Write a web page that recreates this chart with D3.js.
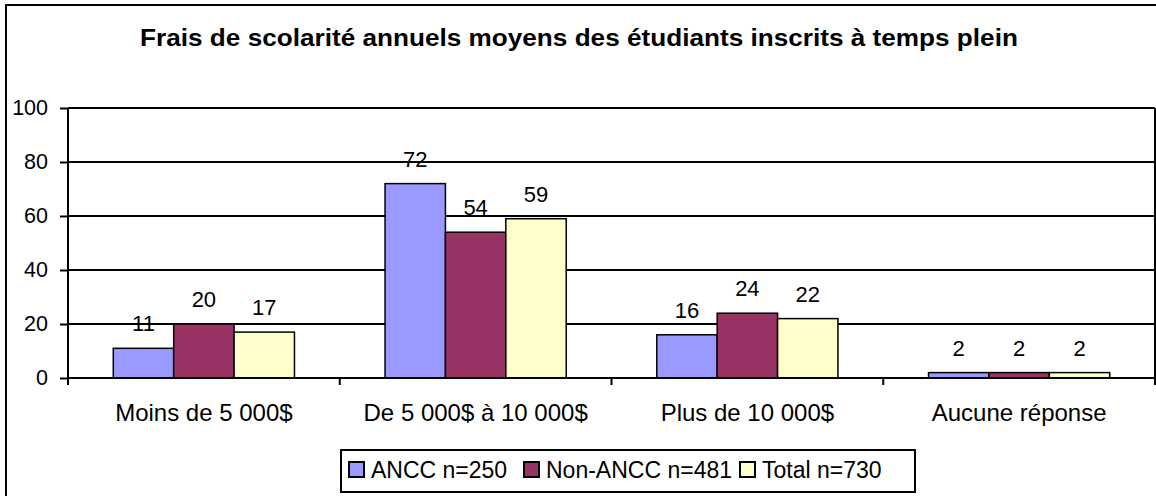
<!DOCTYPE html>
<html>
<head>
<meta charset="utf-8">
<script src="https://cdn.jsdelivr.net/npm/d3@7"></script>
<style>
  body { margin: 0; background: #fff; }
  svg { display: block; font-family: "Liberation Sans", Arial, sans-serif; }
</style>
</head>
<body>
<div class="canvas"></div>
<script>
const categories = ["Moins de 5 000$", "De 5 000$ à 10 000$", "Plus de 10 000$", "Aucune réponse"];
const seriesNames = ["ANCC n=250", "Non-ANCC n=481", "Total n=730"];
const ancc = [11, 72, 16, 2];
const nonAncc = [20, 54, 24, 2];
const total = [17, 59, 22, 2];
const yTicks = [0, 20, 40, 60, 80, 100];
const colors = ["#9999ff", "#993366", "#ffffcc"];
const title = "Frais de scolarité annuels moyens des étudiants inscrits à temps plein";

const series = [ancc, nonAncc, total];

const width = 1156;
const height = 496;
const margin = { top: 108, right: 1, bottom: 118, left: 68 };
const graphWidth = width - margin.left - margin.right;
const graphHeight = height - margin.top - margin.bottom;

const svg = d3
  .select(".canvas")
  .append("svg")
  .attr("width", width)
  .attr("height", height);

// outer frame
svg.append("rect")
  .attr("x", 6)
  .attr("y", 5)
  .attr("width", width + 10)
  .attr("height", height + 10)
  .attr("fill", "none")
  .attr("stroke", "#000")
  .attr("stroke-width", 2);

svg.append("text")
  .attr("x", 579)
  .attr("y", 46)
  .attr("text-anchor", "middle")
  .attr("font-size", 24)
  .attr("font-weight", "bold")
  .attr("transform", "translate(579,0) scale(1.09,1) translate(-579,0)")
  .text(title);

const graph = svg
  .append("g")
  .attr("transform", `translate(${margin.left}, ${margin.top})`);

//scales
const x0 = d3.scaleBand().domain(categories).range([0, graphWidth]);
const x1 = d3.scaleBand()
  .domain(d3.range(series.length))
  .range([0, x0.bandwidth()])
  .paddingOuter(0.75)
  .paddingInner(0);
const y = d3.scaleLinear().domain([0, 100]).range([graphHeight, 0]);

//gridlines
graph.append("g")
  .selectAll("line")
  .data(yTicks.filter(d => d > 0))
  .enter()
  .append("line")
  .attr("x1", 0)
  .attr("x2", graphWidth)
  .attr("y1", d => y(d))
  .attr("y2", d => y(d))
  .attr("stroke", "#000")
  .attr("stroke-width", 2);

// right edge of plot area
graph.append("line")
  .attr("x1", graphWidth)
  .attr("x2", graphWidth)
  .attr("y1", 0)
  .attr("y2", graphHeight)
  .attr("stroke", "#000")
  .attr("stroke-width", 2);

//bars
const groups = graph
  .selectAll(".cat")
  .data(categories)
  .enter()
  .append("g")
  .attr("class", "cat")
  .attr("transform", d => `translate(${x0(d)}, 0)`);

groups
  .selectAll("rect")
  .data((d, i) => series.map((s, j) => ({ s: j, v: s[i] })))
  .enter()
  .append("rect")
  .attr("x", d => x1(d.s))
  .attr("y", d => y(d.v))
  .attr("width", x1.bandwidth())
  .attr("height", d => graphHeight - y(d.v))
  .attr("fill", d => colors[d.s])
  .attr("stroke", "#000")
  .attr("stroke-width", 1.5);

groups
  .selectAll("text")
  .data((d, i) => series.map((s, j) => ({ s: j, v: s[i] })))
  .enter()
  .append("text")
  .attr("x", d => x1(d.s) + x1.bandwidth() / 2)
  .attr("y", d => y(d.v) - 17)
  .attr("text-anchor", "middle")
  .attr("font-size", 22)
  .text(d => d.v);

//axes
const xAxis = d3.axisBottom(x0).tickSize(0).tickPadding(0);
const xAxisGroup = graph
  .append("g")
  .attr("transform", `translate(0, ${graphHeight})`)
  .call(xAxis);
xAxisGroup.select(".domain").attr("stroke-width", 2).attr("d", `M0,0H${graphWidth}`);
xAxisGroup.selectAll("text")
  .attr("font-size", 24)
  .attr("fill", "#000")
  .attr("dy", 0)
  .attr("y", 43);

// category boundary ticks
xAxisGroup.append("g")
  .selectAll("line")
  .data(d3.range(categories.length + 1))
  .enter()
  .append("line")
  .attr("x1", d => d * x0.step())
  .attr("x2", d => d * x0.step())
  .attr("y1", 0)
  .attr("y2", 7)
  .attr("stroke", "#000")
  .attr("stroke-width", 2);

const yAxis = d3.axisLeft(y).tickValues(yTicks).tickSize(8).tickPadding(12);
const yAxisGroup = graph.append("g").call(yAxis);
yAxisGroup.select(".domain").attr("stroke-width", 2).attr("d", `M0,${graphHeight + 7}V0`);
yAxisGroup.selectAll(".tick line").attr("stroke-width", 2);
yAxisGroup.selectAll("text").attr("font-size", 21.5).attr("fill", "#000");

//legend
const legend = svg.append("g");
legend.append("rect")
  .attr("x", 341)
  .attr("y", 450)
  .attr("width", 574)
  .attr("height", 42)
  .attr("fill", "#fff")
  .attr("stroke", "#000")
  .attr("stroke-width", 2);

const legendX = [349, 524, 740];
const items = legend
  .selectAll(".item")
  .data(seriesNames)
  .enter()
  .append("g")
  .attr("class", "item")
  .attr("transform", (d, i) => `translate(${legendX[i]}, 462)`);

items.append("rect")
  .attr("width", 15)
  .attr("height", 15)
  .attr("fill", (d, i) => colors[i])
  .attr("stroke", "#000")
  .attr("stroke-width", 2);

items.append("text")
  .attr("x", 22)
  .attr("y", 16)
  .attr("font-size", 23)
  .text(d => d);
</script>
</body>
</html>
